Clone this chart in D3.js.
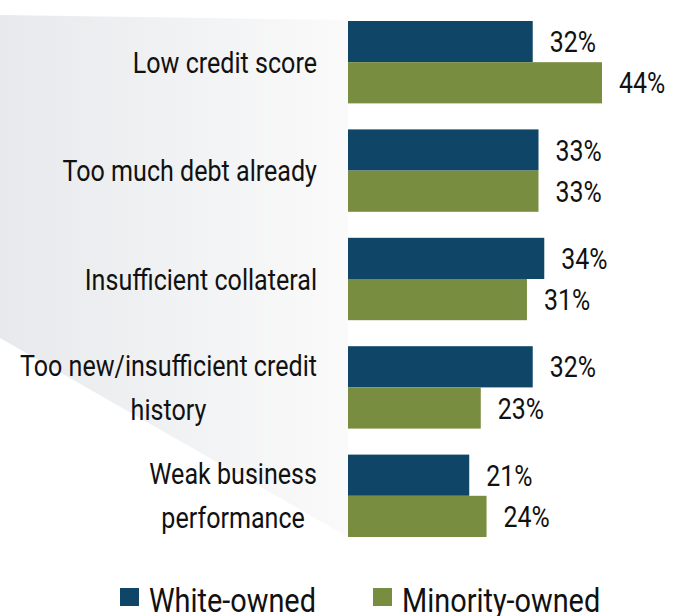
<!DOCTYPE html>
<html>
<head>
<meta charset="utf-8">
<script src="https://cdn.jsdelivr.net/npm/d3@7"></script>
<style>
  html, body { margin: 0; padding: 0; background: #fff; }
  svg { display: block; }
  text { font-family: Roboto, "Noto Sans", sans-serif; fill: #111; }
</style>
</head>
<body>
<svg id="chart" width="679" height="616"></svg>
<script>
// Reasons for loan denial, share of applicants by ownership
const categories = [
  ["Low credit score"],
  ["Too much debt already"],
  ["Insufficient collateral"],
  ["Too new/insufficient credit", "history"],
  ["Weak business", "performance"]
];
const seriesNames = ["White-owned", "Minority-owned"];
const whiteOwned = [32, 33, 34, 32, 21];
const minorityOwned = [44, 33, 31, 23, 24];
const colors = ["#0f4566", "#788d40"];

const svg = d3.select("#chart");
// horizontal squeeze for a condensed look
const condenseCat = 0.865, condenseVal = 0.83, condenseLeg = 0.875;

// soft gradient panel behind the category labels
const defs = svg.append("defs");
const grad = defs.append("linearGradient").attr("id", "panel")
  .attr("x1", "0%").attr("x2", "100%").attr("y1", "0%").attr("y2", "0%");
grad.append("stop").attr("offset", "0%").attr("stop-color", "#e7e9ec");
grad.append("stop").attr("offset", "100%").attr("stop-color", "#fafafa");

const xLeft = 348;
const x = d3.scaleLinear().domain([0, 44]).range([xLeft, 602]);
const y = d3.scaleBand().domain(d3.range(categories.length)).range([21, 537])
  .paddingInner(0.24).paddingOuter(0);
const ySub = d3.scaleBand().domain(d3.range(seriesNames.length)).range([0, y.bandwidth()]).padding(0);

svg.append("path")
  .attr("d", `M0,15 L${xLeft},20 L${xLeft},537 L0,338 Z`)
  .attr("fill", "url(#panel)");

const data = categories.map((c, i) => ({ label: c, values: [whiteOwned[i], minorityOwned[i]] }));

const groups = svg.selectAll("g.cat").data(data).join("g")
  .attr("class", "cat")
  .attr("transform", (d, i) => `translate(0,${y(i)})`);

// bars
groups.selectAll("rect").data(d => d.values).join("rect")
  .attr("x", x(0))
  .attr("y", (v, j) => ySub(j))
  .attr("width", v => x(v) - x(0))
  .attr("height", ySub.bandwidth())
  .attr("fill", (v, j) => colors[j]);

// value labels
groups.selectAll("g.val").data(d => d.values).join("g")
  .attr("class", "val")
  .attr("transform", (v, j) => `translate(${x(v) + 17},${ySub(j) + ySub.bandwidth() / 2 + 10.5}) scale(${condenseVal},1)`)
  .append("text")
  .attr("font-size", 30)
  .text(v => v + "%");

// category labels: block right-aligned, lines centred within the block
const labelRight = 317;
const lineH = 44;
groups.each(function (d) {
  const g = d3.select(this);
  const n = d.label.length;
  const cy = y.bandwidth() / 2;
  const holder = g.append("g");
  const texts = d.label.map((line, k) => holder.append("text")
    .attr("font-size", 29)
    .attr("text-anchor", "middle")
    .attr("y", (k - (n - 1) / 2) * lineH + 10.5)
    .text(line));
  const maxW = d3.max(texts, t => t.node().getComputedTextLength()) * condenseCat;
  holder.attr("transform", `translate(${labelRight - maxW / 2},${cy}) scale(${condenseCat},1)`);
});

// legend
const legendX = [120, 373];
const legend = svg.selectAll("g.leg").data(seriesNames).join("g")
  .attr("class", "leg")
  .attr("transform", (d, i) => `translate(${legendX[i]},588)`);
legend.append("rect").attr("width", 19).attr("height", 18)
  .attr("fill", (d, i) => colors[i]);
legend.append("g").attr("transform", `translate(29,24) scale(${condenseLeg},1)`)
  .append("text").attr("font-size", 33).text(d => d);
</script>
</body>
</html>
